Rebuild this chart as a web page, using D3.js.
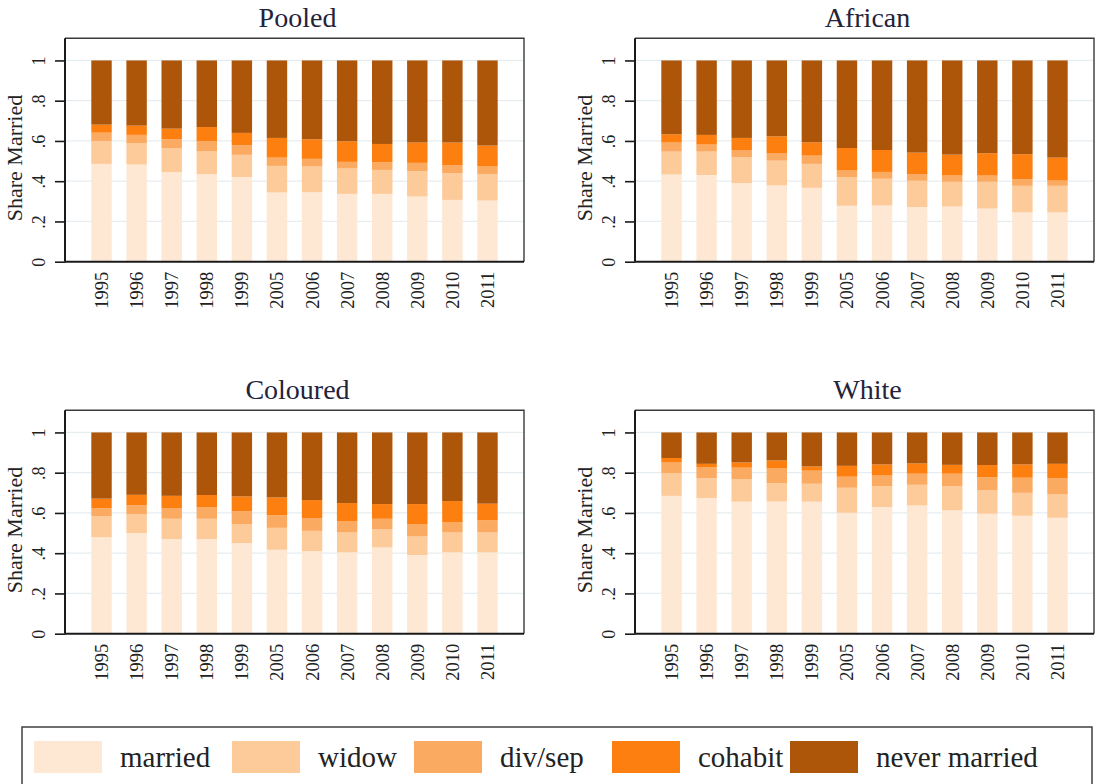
<!DOCTYPE html>
<html>
<head>
<meta charset="utf-8">
<script src="https://cdn.jsdelivr.net/npm/d3@7"></script>
<style>
  body { margin: 0; background: #fff; }
  svg { display: block; font-family: "Liberation Serif", "Times New Roman", serif; }
</style>
</head>
<body>
<svg id="chart" width="1095" height="784"></svg>
<script>
// survey years (x categories)
var years = ["1995", "1996", "1997", "1998", "1999", "2005", "2006", "2007", "2008", "2009", "2010", "2011"];
var categories = ["married", "widow", "div/sep", "cohabit", "never married"];
var yTicks = [0, 0.2, 0.4, 0.6, 0.8, 1];
var yTickLabels = ["0", ".2", ".4", ".6", ".8", "1"];

// shares per category, rows in the order of `categories`
var pooled = [
  [.486, .483, .445, .435, .421, .344, .345, .337, .337, .324, .307, .304],
  [.114, .105, .120, .115, .110, .132, .128, .126, .119, .126, .133, .132],
  [.041, .042, .043, .048, .048, .041, .038, .033, .038, .041, .038, .037],
  [.040, .046, .053, .071, .061, .098, .097, .102, .091, .101, .114, .104],
  [.319, .324, .339, .331, .360, .385, .392, .402, .415, .408, .408, .423]
];
var african = [
  [.433, .431, .390, .379, .367, .278, .279, .271, .274, .264, .245, .245],
  [.114, .116, .129, .123, .119, .142, .133, .131, .123, .133, .132, .132],
  [.045, .035, .036, .038, .041, .033, .034, .033, .031, .031, .033, .026],
  [.041, .048, .060, .083, .066, .112, .109, .107, .104, .111, .124, .114],
  [.367, .370, .385, .377, .407, .435, .445, .458, .468, .461, .466, .483]
];
var coloured = [
  [.479, .500, .470, .470, .450, .417, .410, .404, .429, .391, .404, .404],
  [.105, .093, .101, .101, .093, .109, .101, .099, .089, .092, .099, .099],
  [.039, .046, .053, .058, .065, .063, .063, .057, .053, .062, .052, .060],
  [.048, .051, .061, .060, .074, .088, .090, .089, .073, .099, .104, .083],
  [.329, .310, .315, .311, .318, .323, .336, .351, .356, .356, .341, .354]
];
var white = [
  [.685, .674, .656, .657, .656, .601, .629, .637, .613, .596, .586, .576],
  [.113, .099, .111, .091, .089, .124, .104, .103, .120, .116, .114, .116],
  [.055, .055, .058, .073, .065, .055, .053, .055, .062, .066, .075, .081],
  [.020, .016, .026, .040, .021, .054, .055, .051, .044, .060, .066, .071],
  [.127, .156, .149, .139, .169, .166, .159, .154, .161, .162, .159, .156]
];

var colors = ["#fee8d4", "#fdca9a", "#fbaa62", "#fd7f0f", "#ad5508"];

var panels = [
  {title: "Pooled",   data: pooled,   x: 65,  y: 38.3},
  {title: "African",  data: african,  x: 635, y: 38.3},
  {title: "Coloured", data: coloured, x: 65,  y: 410.3},
  {title: "White",    data: white,    x: 635, y: 410.3}
];

var plotW = 459, plotH = 223.4;

var svg = d3.select("#chart");

var x = d3.scaleBand().domain(years).range([0, plotW])
    .paddingInner(0.418).paddingOuter(0.75);
var y = d3.scaleLinear().domain([0, 1.11]).range([plotH, 0]);

panels.forEach(function(p) {
  var rows = years.map(function(yr, i) {
    var r = {year: yr};
    categories.forEach(function(c, k) { r[c] = p.data[k][i]; });
    return r;
  });
  var series = d3.stack().keys(categories)(rows);

  var g = svg.append("g").attr("transform", "translate(" + p.x + "," + p.y + ")");

  // grid
  g.selectAll(".grid").data(yTicks.slice(1)).enter().append("line")
      .attr("x1", 0).attr("x2", plotW)
      .attr("y1", function(d) { return y(d); })
      .attr("y2", function(d) { return y(d); })
      .attr("stroke", "#e6edf1").attr("stroke-width", 1.2);

  // bars
  g.selectAll(".layer").data(series).enter().append("g")
      .attr("fill", function(d, i) { return colors[i]; })
    .selectAll("rect").data(function(d) { return d; }).enter().append("rect")
      .attr("x", function(d) { return x(d.data.year); })
      .attr("width", x.bandwidth())
      .attr("y", function(d) { return y(d[1]); })
      .attr("height", function(d) { return y(d[0]) - y(d[1]); });

  // frame top/right
  g.append("path")
      .attr("d", "M0,0H" + plotW + "V" + plotH)
      .attr("fill", "none").attr("stroke", "#3a3a3a").attr("stroke-width", 1.4);

  // y axis
  var ya = g.append("g").call(d3.axisLeft(y).tickValues(yTicks).tickSize(10)
      .tickFormat(function(d, i) { return yTickLabels[i]; }));
  ya.select(".domain").attr("d", "M0," + plotH + "V0").attr("stroke", "#1a1a1a").attr("stroke-width", 2);
  ya.selectAll(".tick line").attr("stroke", "#1a1a1a").attr("stroke-width", 1.6);
  ya.selectAll(".tick text")
      .attr("font-family", "Liberation Serif, serif").attr("font-size", 18).attr("fill", "#222")
      .attr("x", null).attr("dy", null)
      .attr("text-anchor", "middle")
      .attr("transform", "translate(-26,0) rotate(-90)")
      .attr("y", 0).attr("dy", "0.35em");

  // x axis
  var xa = g.append("g").attr("transform", "translate(0," + plotH + ")")
      .call(d3.axisBottom(x).tickSize(0));
  xa.select(".domain").attr("d", "M0,0H" + plotW).attr("stroke", "#1a1a1a").attr("stroke-width", 2);
  xa.selectAll(".tick text")
      .attr("font-family", "Liberation Serif, serif").attr("font-size", 18.5).attr("fill", "#222")
      .attr("y", 0).attr("dy", "0.35em")
      .attr("text-anchor", "end")
      .attr("transform", "translate(0,10) rotate(-90)");

  // axis title
  g.append("text")
      .attr("transform", "translate(-43," + (plotH / 2 + 8) + ") rotate(-90)")
      .attr("text-anchor", "middle")
      .attr("font-size", 22).attr("fill", "#222")
      .text("Share Married");

  // panel title
  g.append("text")
      .attr("x", plotW / 2 + 3).attr("y", -11)
      .attr("text-anchor", "middle")
      .attr("font-size", 28).attr("fill", "#23233a")
      .text(p.title);
});

// legend
var leg = svg.append("g");
leg.append("rect").attr("x", 22).attr("y", 727).attr("width", 1070).attr("height", 80)
    .attr("fill", "#fff").attr("stroke", "#333").attr("stroke-width", 1.4);
var legX = [34, 232, 414, 612, 790];
var items = leg.selectAll(".item").data(categories).enter().append("g")
    .attr("transform", function(d, i) { return "translate(" + legX[i] + ",741)"; });
items.append("rect").attr("width", 68).attr("height", 32)
    .attr("fill", function(d, i) { return colors[i]; });
items.append("text").attr("x", 86).attr("y", 16).attr("dy", "0.35em")
    .attr("font-size", 29).attr("fill", "#222")
    .text(function(d) { return d; });
</script>
</body>
</html>
